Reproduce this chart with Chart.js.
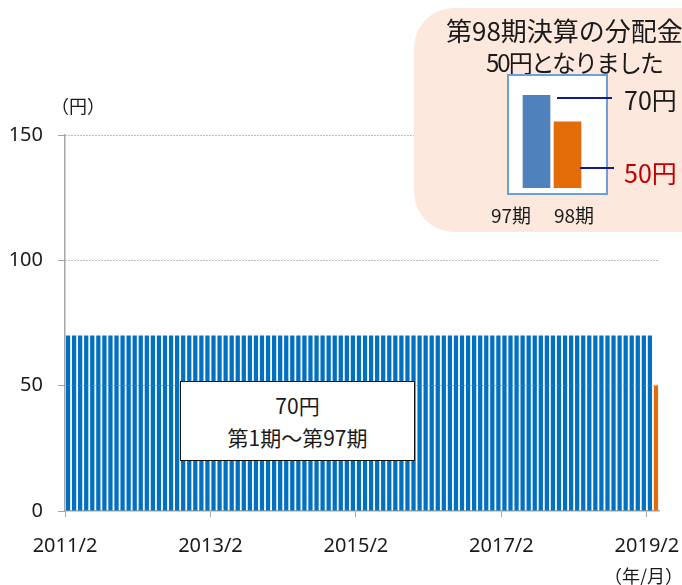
<!DOCTYPE html>
<html lang="ja">
<head>
    <meta charset="UTF-8">
    <title>分配金の推移</title>
    <script src="https://cdn.jsdelivr.net/npm/chart.js@4.4.0/dist/chart.umd.min.js"></script>
    <style>
        body {
            margin: 0;
            background: #fff;
            font-family: "Noto Sans CJK JP", "Noto Sans", sans-serif;
            color: #1a1a1a;
        }
        #wrap {
            position: relative;
            width: 682px;
            height: 585px;
            overflow: hidden;
        }
        #chartBox {
            position: absolute;
            left: 0; top: 0;
            width: 682px;
            height: 585px;
        }
        .txt {
            position: absolute;
            white-space: nowrap;
        }
        #note {
            position: absolute;
            left: 180px; top: 381px;
            width: 235px; height: 80px;
            box-sizing: border-box;
            border: 1.5px solid #111;
            background: #fff;
            text-align: center;
            font-size: 21px;
            line-height: 32px;
            padding-top: 7px;
        }
        #callout {
            position: absolute;
            left: 414px; top: 8px;
            width: 320px; height: 224px;
            border-radius: 40px;
            background: #fce8dc;
        }
        #miniBox {
            position: absolute;
            left: 507px; top: 74px;
            width: 101px; height: 121px;
            box-sizing: border-box;
            border: 2px solid #6d9eda;
            background: #fff;
        }
        #miniChart {
            position: absolute;
            left: 521px; top: 82px;
            width: 62px; height: 106px;
        }
        .lead {
            position: absolute;
            height: 2px;
            background: #101c8c;
        }
    </style>
</head>
<body>
<div id="wrap">
    <div id="chartBox"><canvas id="distChart"></canvas></div>

    <div class="txt" style="left:51px; top:95px; font-size:18px; line-height:20px;">（円）</div>
    <div class="txt" style="left:604px; top:565px; font-size:18px; line-height:20px;">（年/月）</div>

    <div id="note">70円<br>第1期～第97期</div>

    <div id="callout"></div>
    <div class="txt" style="left:446px; top:15px; font-size:26px; line-height:30px;">第98期決算の分配金</div>
    <div class="txt" style="left:464px; top:48px; width:220px; text-align:center; font-size:24px; line-height:28px; letter-spacing:-2px;">50円となりました</div>
    <div id="miniBox"></div>
    <div id="miniChart"><canvas id="compareChart"></canvas></div>
    <div class="lead" style="left:557px; top:97px; width:55px;"></div>
    <div class="lead" style="left:580px; top:167px; width:34px;"></div>
    <div class="txt" style="left:624px; top:84px; font-size:25px; line-height:30px;">70円</div>
    <div class="txt" style="left:624px; top:157px; font-size:25px; line-height:30px; color:#c00000;">50円</div>
    <div class="txt" style="left:491px; top:204px; font-size:19px; line-height:22px;">97期</div>
    <div class="txt" style="left:554px; top:204px; font-size:19px; line-height:22px;">98期</div>
</div>

<script>
    // 分配金（円）: 第1期（2011/2）から第98期まで、毎月
    const distributions = [
        70, 70, 70, 70, 70, 70, 70, 70, 70, 70,
        70, 70, 70, 70, 70, 70, 70, 70, 70, 70,
        70, 70, 70, 70, 70, 70, 70, 70, 70, 70,
        70, 70, 70, 70, 70, 70, 70, 70, 70, 70,
        70, 70, 70, 70, 70, 70, 70, 70, 70, 70,
        70, 70, 70, 70, 70, 70, 70, 70, 70, 70,
        70, 70, 70, 70, 70, 70, 70, 70, 70, 70,
        70, 70, 70, 70, 70, 70, 70, 70, 70, 70,
        70, 70, 70, 70, 70, 70, 70, 70, 70, 70,
        70, 70, 70, 70, 70, 70, 70, 50
    ];

    // x軸の目盛り（2011/2からの月数）とラベル
    const tickMonths = [0, 24, 48, 72, 96];
    const tickLabels = ['2011/2', '2013/2', '2015/2', '2017/2', '2019/2'];
    const yTicks = [0, 50, 100, 150];

    // 右上の比較グラフ
    const compareLabels = ['97期', '98期'];
    const compareValues = [70, 50];

    const BLUE = '#0070c0';
    const ORANGE = '#e46c0a';
    const lastIdx = distributions.length - 1;

    new Chart(document.getElementById('distChart'), {
        type: 'bar',
        data: {
            datasets: [{
                data: distributions.map((v, i) => ({ x: i + 0.5, y: v })),
                backgroundColor: ctx => ctx.dataIndex === lastIdx ? ORANGE : BLUE,
                barPercentage: 0.7,
                categoryPercentage: 1
            }]
        },
        options: {
            responsive: true,
            maintainAspectRatio: false,
            animation: false,
            layout: { padding: { left: 0, top: 135, right: 23, bottom: 0 } },
            plugins: { legend: { display: false }, tooltip: { enabled: false } },
            scales: {
                x: {
                    type: 'linear',
                    min: 0,
                    max: 98,
                    offset: false,
                    afterBuildTicks: scale => { scale.ticks = tickMonths.map(v => ({ value: v })); },
                    afterFit: scale => {
                        scale.height = 74;
                        scale.paddingLeft = 0;
                        scale.paddingRight = 0;
                    },
                    ticks: {
                        autoSkip: false,
                        maxRotation: 0,
                        padding: 17,
                        color: '#1a1a1a',
                        font: { family: 'Noto Sans', size: 20 },
                        callback: v => tickLabels[tickMonths.indexOf(v)]
                    },
                    grid: { offset: false, drawOnChartArea: false, tickLength: 6, tickColor: '#a6a6a6' },
                    border: { color: '#a6a6a6', width: 1.5 }
                },
                y: {
                    min: 0,
                    max: 150,
                    afterBuildTicks: scale => { scale.ticks = yTicks.map(v => ({ value: v })); },
                    afterFit: scale => { scale.width = 65; },
                    ticks: {
                        padding: 15,
                        color: '#1a1a1a',
                        font: { family: 'Noto Sans', size: 20 }
                    },
                    grid: {
                        z: 1,
                        color: ctx => ctx.tick && ctx.tick.value === 0 ? 'rgba(0,0,0,0)' : '#7f7f7f',
                        tickLength: 7,
                        tickColor: '#a6a6a6'
                    },
                    border: { z: 1, color: '#a6a6a6', width: 1.5, dash: [1, 2] }
                }
            }
        }
    });

    new Chart(document.getElementById('compareChart'), {
        type: 'bar',
        data: {
            labels: compareLabels,
            datasets: [{
                data: compareValues,
                backgroundColor: ['#4f81bd', '#e36c09'],
                barThickness: 27
            }]
        },
        options: {
            responsive: true,
            maintainAspectRatio: false,
            animation: false,
            plugins: { legend: { display: false }, tooltip: { enabled: false } },
            scales: {
                x: { display: false },
                y: { display: false, min: 0, max: 80 }
            }
        }
    });
</script>
</body>
</html>
